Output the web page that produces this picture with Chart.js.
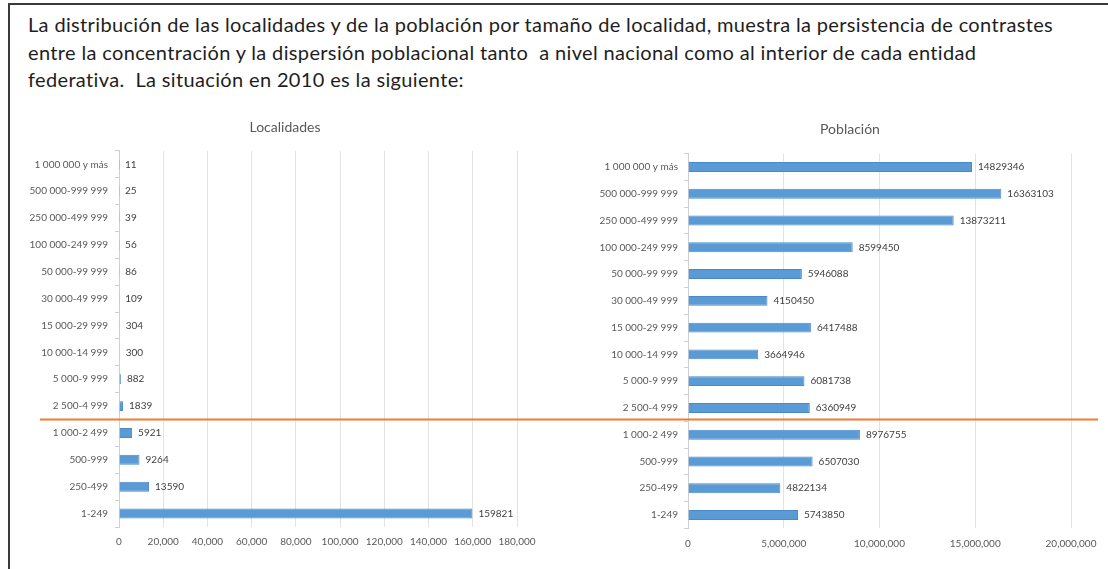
<!DOCTYPE html>
<html>
<head>
<meta charset="utf-8">
<script src="https://cdn.jsdelivr.net/npm/chart.js@4.4.1/dist/chart.umd.min.js"></script>
<style>
    body { margin:0; background:#fff; width:1108px; height:569px; position:relative; overflow:hidden; font-family:Lato, Calibri, sans-serif; }
    #frameTop { position:absolute; left:8px; top:3px; width:1100px; height:2px; background:#3a3a3a; }
    #frameLeft { position:absolute; left:8px; top:3px; width:2px; height:566px; background:#3a3a3a; }
    #intro { position:absolute; left:28px; top:11px; font-size:20px; letter-spacing:0.35px; line-height:27.5px; color:#1e1e1e; white-space:nowrap; }
    .box { position:absolute; top:110px; height:459px; }
    #boxLoc { left:20px; width:530px; }
    #boxPob { left:550px; width:558px; }
    .ctitle { position:absolute; font-size:14px; color:#595959; transform:translateX(-50%); white-space:nowrap; }
</style>
</head>
<body>
<div id="frameTop"></div>
<div id="frameLeft"></div>
<div id="intro">La distribución de las localidades y de la población por tamaño de localidad, muestra la persistencia de contrastes<br>entre la concentración y la dispersión poblacional tanto&nbsp; a nivel nacional como al interior de cada entidad<br>federativa.&nbsp; La situación en 2010 es la siguiente:</div>
<div class="box" id="boxLoc"><canvas id="chartLoc"></canvas></div>
<div class="box" id="boxPob"><canvas id="chartPob"></canvas></div>
<div class="ctitle" style="left:285px;top:118px">Localidades</div>
<div class="ctitle" style="left:850px;top:120px">Población</div>

<script>
// categories (tamaño de localidad)
var categories = ['1 000 000 y más', '500 000-999 999', '250 000-499 999', '100 000-249 999',
    '50 000-99 999', '30 000-49 999', '15 000-29 999', '10 000-14 999', '5 000-9 999',
    '2 500-4 999', '1 000-2 499', '500-999', '250-499', '1-249'];

// number of localities
var localidades = [11, 25, 39, 56, 86, 109, 304, 300, 882, 1839, 5921, 9264, 13590, 159821];

// population
var poblacion = [14829346, 16363103, 13873211, 8599450, 5946088, 4150450, 6417488,
    3664946, 6081738, 6360949, 8976755, 6507030, 4822134, 5743850];

// x axis ticks
var locTicks = { max: 180000, step: 20000 };
var pobTicks = { max: 20000000, step: 5000000 };

// urban / rural split comes after this row
var splitAfter = 9;
var splitY = null;

Chart.defaults.font.family = 'Lato, Calibri, sans-serif';
Chart.defaults.color = '#595959';

// value labels next to each bar
var barLabels = {
    id: 'barLabels',
    afterDatasetsDraw: function(chart) {
        var ctx = chart.ctx;
        var meta = chart.getDatasetMeta(0);
        var values = chart.data.datasets[0].data;
        ctx.save();
        ctx.font = '10px Lato, Calibri, sans-serif';
        ctx.fillStyle = '#404040';
        ctx.textAlign = 'left';
        ctx.textBaseline = 'middle';
        for (var i = 0; i < meta.data.length; i++) {
            var bar = meta.data[i];
            ctx.fillText(String(values[i]), bar.x + 6, bar.y);
        }
        ctx.restore();
    }
};

// orange separator line, one straight line across both charts
var divider = {
    id: 'divider',
    afterDraw: function(chart, args, opts) {
        var y = chart.scales.y;
        var top = chart.canvas.getBoundingClientRect().top;
        if (splitY === null) {
            splitY = top + (y.getPixelForTick(splitAfter) + y.getPixelForTick(splitAfter + 1)) / 2;
        }
        var py = splitY - top;
        var ctx = chart.ctx;
        ctx.save();
        ctx.strokeStyle = '#ED7D31';
        ctx.lineWidth = 2;
        ctx.beginPath();
        ctx.moveTo(opts.from, py);
        ctx.lineTo(opts.to, py);
        ctx.stroke();
        ctx.restore();
    }
};

function drawChart(canvasId, values, ticks, cfg) {
    return new Chart(document.getElementById(canvasId), {
        type: 'bar',
        data: {
            labels: categories,
            datasets: [{
                data: values,
                backgroundColor: '#5B9BD5',
                borderColor: '#4A89C8',
                borderWidth: 1,
                categoryPercentage: 1,
                barPercentage: 0.37
            }]
        },
        options: {
            indexAxis: 'y',
            responsive: true,
            maintainAspectRatio: false,
            animation: false,
            layout: { padding: cfg.padding },
            plugins: {
                legend: { display: false },
                tooltip: { enabled: false },
                divider: cfg.divider
            },
            scales: {
                x: {
                    min: 0,
                    max: ticks.max,
                    ticks: {
                        stepSize: ticks.step,
                        autoSkip: false,
                        maxRotation: 0,
                        padding: 9,
                        font: { size: 10 },
                        callback: function(v) { return v.toLocaleString('en-US'); }
                    },
                    grid: { color: '#E3E3E3', drawTicks: false },
                    border: { display: false },
                    afterFit: function(s) { s.height = 21; }
                },
                y: {
                    ticks: { font: { size: 10 }, padding: cfg.labelPad },
                    grid: { drawOnChartArea: false, color: '#D0D0D0', tickLength: 4 },
                    border: { color: '#D0D0D0' },
                    afterFit: function(s) { s.width = cfg.axisWidth; }
                }
            }
        },
        plugins: [barLabels, divider]
    });
}

drawChart('chartLoc', localidades, locTicks, {
    padding: { left: 0, right: 33, top: 40.9, bottom: 21 },
    labelPad: 7,
    axisWidth: 99,
    divider: { from: 20, to: 530 }
});

drawChart('chartPob', poblacion, pobTicks, {
    padding: { left: 38, right: 37, top: 43.6, bottom: 19.6 },
    labelPad: 6,
    axisWidth: 100,
    divider: { from: 0, to: 548 }
});
</script>
</body>
</html>
